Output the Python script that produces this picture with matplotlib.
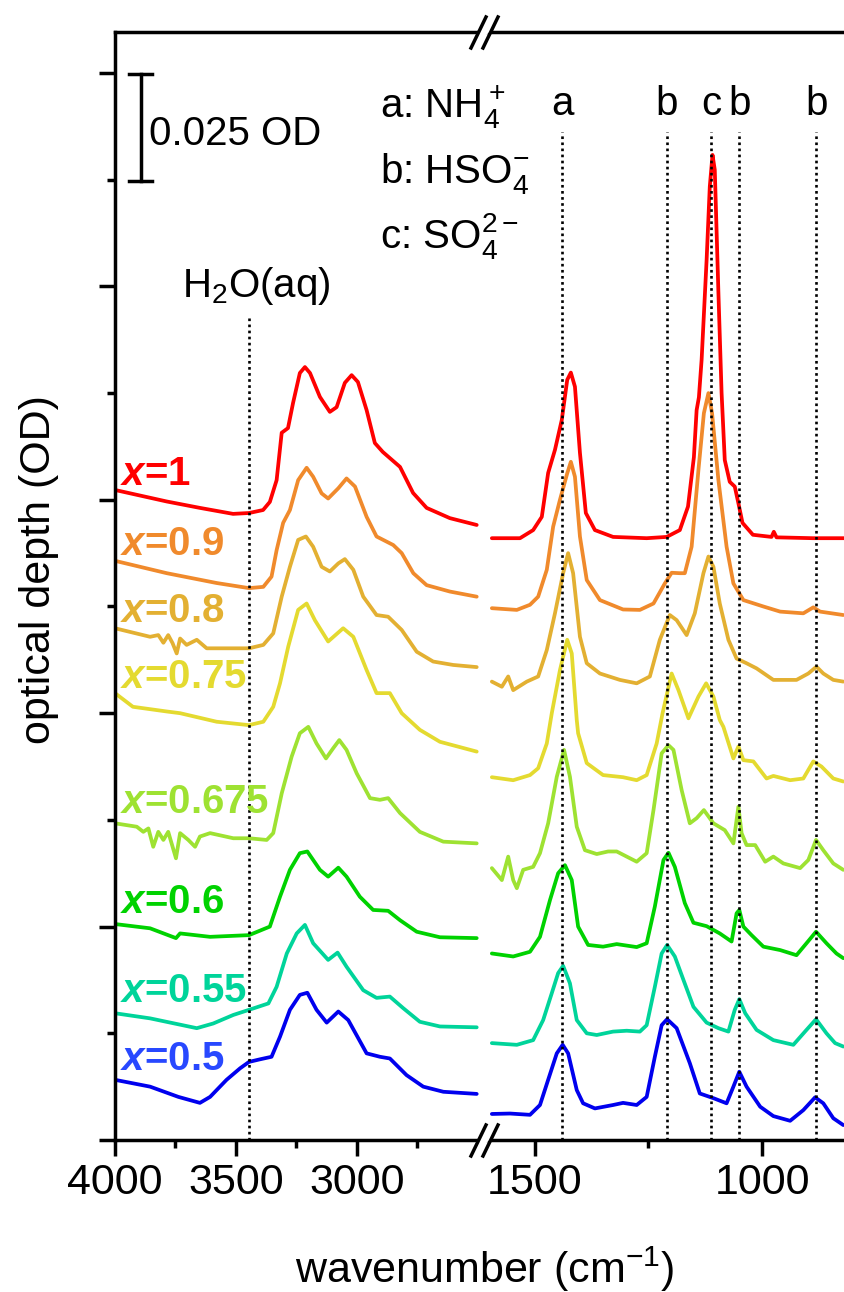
import matplotlib
matplotlib.use('Agg')
import matplotlib.pyplot as plt
from matplotlib.lines import Line2D
from matplotlib.patches import Polygon
from matplotlib.ticker import MultipleLocator, FixedLocator, NullFormatter

plt.rcParams['font.family'] = ['Liberation Sans', 'DejaVu Sans']
plt.rcParams['mathtext.fontset'] = 'custom'
plt.rcParams['mathtext.rm'] = 'Liberation Sans'
plt.rcParams['mathtext.it'] = 'Liberation Sans:italic:bold'
plt.rcParams['mathtext.bf'] = 'Liberation Sans:bold'
plt.rcParams['mathtext.sf'] = 'Liberation Sans'

# ---------------- data (wavenumber cm-1, optical depth) ----------------
labels = ['1', '0.9', '0.8', '0.75', '0.675', '0.6', '0.55', '0.5']
line_colors = ['#FF0000', '#F08A2C', '#E3B032', '#E4DA30', '#9EE232', '#00D200', '#00D49A', '#0000EE']
label_colors = ['#FF0000', '#F08A2C', '#E3B032', '#E4DA30', '#9EE232', '#00D200', '#00D49A', '#2848FF']
label_base_od = [0.1535, 0.1371, 0.1214, 0.1059, 0.0766, 0.0532, 0.0324, 0.0164]

red_l_wn = [4000, 3786, 3649, 3512, 3446, 3388, 3360, 3332, 3311, 3285, 3264, 3236, 3215, 3194, 3153, 3112, 3084, 3050, 3022, 2996, 2960, 2926, 2893, 2822, 2768, 2712, 2616, 2505]
red_l_od = [0.1523, 0.1496, 0.1481, 0.1467, 0.1469, 0.1476, 0.1495, 0.1546, 0.1657, 0.1668, 0.1727, 0.1797, 0.1811, 0.1797, 0.1741, 0.1706, 0.1717, 0.1774, 0.1792, 0.1776, 0.1710, 0.1633, 0.1612, 0.1577, 0.1516, 0.1481, 0.1457, 0.1441]
red_r_wn = [1595, 1533, 1504, 1485, 1471, 1456, 1441, 1429, 1421, 1412, 1401, 1388, 1368, 1328, 1254, 1210, 1181, 1163, 1150, 1144, 1139, 1133, 1122, 1115, 1109, 1104, 1096, 1089, 1082, 1071, 1060, 1052, 1043, 1020, 979, 974, 968, 888, 819]
red_r_od = [0.1410, 0.1410, 0.1429, 0.1460, 0.1563, 0.1617, 0.1687, 0.1781, 0.1798, 0.1765, 0.1610, 0.1469, 0.1429, 0.1413, 0.1410, 0.1413, 0.1429, 0.1484, 0.1600, 0.1710, 0.1740, 0.1828, 0.2062, 0.2234, 0.2308, 0.2273, 0.1985, 0.1750, 0.1593, 0.1542, 0.1531, 0.1492, 0.1446, 0.1418, 0.1413, 0.1425, 0.1412, 0.1410, 0.1410]

or_l_wn = [4000, 3786, 3580, 3446, 3387, 3353, 3332, 3305, 3277, 3243, 3208, 3181, 3146, 3119, 3077, 3043, 3008, 2960, 2919, 2850, 2815, 2767, 2712, 2616, 2505]
or_l_od = [0.1357, 0.1328, 0.1305, 0.1293, 0.1296, 0.1320, 0.1382, 0.1446, 0.1476, 0.1546, 0.1575, 0.1554, 0.1515, 0.1503, 0.1527, 0.1550, 0.1531, 0.1460, 0.1414, 0.1394, 0.1375, 0.1328, 0.1300, 0.1285, 0.1273]
or_r_wn = [1595, 1540, 1511, 1493, 1474, 1460, 1445, 1429, 1421, 1412, 1401, 1386, 1357, 1306, 1269, 1239, 1214, 1199, 1181, 1170, 1155, 1140, 1128, 1118, 1110, 1096, 1078, 1063, 1041, 997, 960, 909, 887, 872, 821]
or_r_od = [0.1246, 0.1242, 0.1254, 0.1273, 0.1336, 0.1437, 0.1500, 0.1562, 0.1589, 0.1554, 0.1414, 0.1312, 0.1265, 0.1243, 0.1242, 0.1257, 0.1304, 0.1329, 0.1328, 0.1328, 0.1390, 0.1570, 0.1703, 0.1750, 0.1703, 0.1546, 0.1390, 0.1304, 0.1265, 0.1250, 0.1238, 0.1234, 0.1248, 0.1238, 0.1230]

au_l_wn = [4000, 3855, 3821, 3800, 3780, 3762, 3745, 3731, 3704, 3662, 3621, 3580, 3446, 3387, 3346, 3311, 3277, 3243, 3211, 3181, 3146, 3112, 3077, 3050, 3015, 2974, 2919, 2871, 2815, 2753, 2685, 2602, 2505]
au_l_od = [0.1199, 0.1179, 0.1183, 0.1165, 0.1183, 0.1164, 0.1140, 0.1175, 0.1160, 0.1172, 0.1152, 0.1152, 0.1152, 0.1160, 0.1187, 0.1273, 0.1343, 0.1406, 0.1414, 0.1390, 0.1343, 0.1332, 0.1351, 0.1361, 0.1336, 0.1273, 0.1230, 0.1226, 0.1195, 0.1144, 0.1121, 0.1113, 0.1108]
au_r_wn = [1595, 1573, 1559, 1548, 1518, 1493, 1474, 1456, 1438, 1427, 1416, 1401, 1386, 1357, 1313, 1276, 1247, 1225, 1203, 1188, 1166, 1148, 1129, 1118, 1107, 1093, 1074, 1056, 1034, 1012, 975, 924, 898, 880, 865, 843, 821]
au_r_od = [0.1074, 0.1062, 0.1086, 0.1054, 0.1074, 0.1086, 0.1148, 0.1234, 0.1328, 0.1375, 0.1328, 0.1179, 0.1117, 0.1093, 0.1078, 0.1070, 0.1086, 0.1172, 0.1230, 0.1218, 0.1183, 0.1234, 0.1328, 0.1367, 0.1343, 0.1257, 0.1172, 0.1128, 0.1117, 0.1105, 0.1078, 0.1078, 0.1093, 0.1109, 0.1093, 0.1078, 0.1074]

ye_l_wn = [4000, 3926, 3786, 3731, 3580, 3446, 3387, 3346, 3318, 3284, 3243, 3208, 3174, 3119, 3057, 3015, 2960, 2919, 2864, 2815, 2740, 2657, 2505]
ye_l_od = [0.1047, 0.1015, 0.1004, 0.1000, 0.0980, 0.0972, 0.0980, 0.1015, 0.1070, 0.1156, 0.1242, 0.1257, 0.1218, 0.1168, 0.1199, 0.1179, 0.1101, 0.1047, 0.1047, 0.1000, 0.0961, 0.0933, 0.0910]
ye_r_wn = [1595, 1548, 1511, 1493, 1474, 1463, 1445, 1429, 1419, 1408, 1405, 1386, 1350, 1306, 1276, 1254, 1232, 1219, 1199, 1184, 1162, 1140, 1123, 1107, 1093, 1085, 1063, 1052, 1041, 1019, 990, 975, 938, 909, 887, 869, 843, 821]
ye_r_od = [0.0850, 0.0843, 0.0855, 0.0871, 0.0929, 0.1000, 0.1101, 0.1172, 0.1140, 0.0984, 0.0953, 0.0883, 0.0855, 0.0850, 0.0843, 0.0855, 0.0929, 0.1000, 0.1093, 0.1054, 0.0988, 0.1039, 0.1070, 0.1039, 0.0984, 0.0968, 0.0894, 0.0922, 0.0890, 0.0887, 0.0847, 0.0853, 0.0843, 0.0847, 0.0887, 0.0875, 0.0847, 0.0840]

yg_l_wn = [4000, 3910, 3883, 3862, 3842, 3821, 3800, 3780, 3748, 3731, 3697, 3669, 3649, 3607, 3511, 3446, 3373, 3346, 3311, 3270, 3236, 3201, 3167, 3128, 3098, 3073, 3043, 3001, 2946, 2905, 2871, 2822, 2740, 2643, 2505]
yg_l_od = [0.0742, 0.0734, 0.0722, 0.0730, 0.0687, 0.0722, 0.0703, 0.0722, 0.0660, 0.0719, 0.0703, 0.0687, 0.0711, 0.0719, 0.0707, 0.0707, 0.0703, 0.0719, 0.0812, 0.0898, 0.0953, 0.0968, 0.0929, 0.0894, 0.0918, 0.0937, 0.0914, 0.0859, 0.0801, 0.0797, 0.0801, 0.0766, 0.0722, 0.0699, 0.0695]
yg_r_wn = [1595, 1573, 1559, 1548, 1540, 1526, 1504, 1489, 1471, 1452, 1436, 1423, 1408, 1390, 1364, 1339, 1320, 1298, 1276, 1254, 1239, 1221, 1206, 1195, 1177, 1159, 1144, 1128, 1107, 1082, 1063, 1052, 1045, 1034, 1015, 993, 975, 953, 916, 898, 881, 865, 843, 821]
yg_r_od = [0.0637, 0.0609, 0.0664, 0.0609, 0.0590, 0.0633, 0.0640, 0.0672, 0.0742, 0.0851, 0.0914, 0.0851, 0.0734, 0.0679, 0.0670, 0.0676, 0.0676, 0.0664, 0.0652, 0.0672, 0.0773, 0.0906, 0.0925, 0.0914, 0.0820, 0.0742, 0.0754, 0.0773, 0.0742, 0.0726, 0.0695, 0.0781, 0.0719, 0.0691, 0.0691, 0.0652, 0.0664, 0.0648, 0.0637, 0.0656, 0.0703, 0.0679, 0.0648, 0.0633]

gr_l_wn = [4000, 3855, 3748, 3731, 3607, 3446, 3360, 3318, 3277, 3236, 3205, 3153, 3119, 3077, 3043, 2988, 2933, 2871, 2822, 2753, 2657, 2505]
gr_l_od = [0.0506, 0.0496, 0.0473, 0.0484, 0.0476, 0.0480, 0.0500, 0.0570, 0.0633, 0.0672, 0.0676, 0.0633, 0.0617, 0.0638, 0.0617, 0.0570, 0.0539, 0.0537, 0.0515, 0.0488, 0.0475, 0.0473]
gr_r_wn = [1595, 1548, 1511, 1489, 1467, 1449, 1434, 1419, 1405, 1383, 1350, 1320, 1276, 1254, 1236, 1217, 1206, 1192, 1170, 1151, 1122, 1093, 1067, 1056, 1050, 1041, 1023, 997, 960, 924, 902, 881, 858, 836, 821]
gr_r_od = [0.0437, 0.0430, 0.0441, 0.0476, 0.0562, 0.0625, 0.0644, 0.0609, 0.0500, 0.0457, 0.0453, 0.0459, 0.0452, 0.0461, 0.0547, 0.0656, 0.0673, 0.0640, 0.0555, 0.0509, 0.0501, 0.0484, 0.0465, 0.0531, 0.0539, 0.0500, 0.0480, 0.0453, 0.0445, 0.0433, 0.0461, 0.0488, 0.0461, 0.0437, 0.0426]

te_l_wn = [4000, 3855, 3662, 3594, 3511, 3446, 3366, 3332, 3290, 3249, 3215, 3181, 3119, 3080, 3043, 2974, 2919, 2864, 2809, 2740, 2657, 2505]
te_l_od = [0.0297, 0.0285, 0.0262, 0.0273, 0.0293, 0.0305, 0.0320, 0.0359, 0.0437, 0.0484, 0.0504, 0.0461, 0.0422, 0.0439, 0.0406, 0.0351, 0.0333, 0.0336, 0.0309, 0.0277, 0.0266, 0.0264]
te_r_wn = [1595, 1540, 1504, 1482, 1463, 1449, 1438, 1423, 1408, 1386, 1364, 1328, 1298, 1269, 1254, 1236, 1221, 1209, 1192, 1173, 1151, 1122, 1096, 1074, 1060, 1050, 1037, 1012, 975, 931, 902, 881, 858, 839, 821]
te_r_od = [0.0227, 0.0223, 0.0234, 0.0281, 0.0344, 0.0391, 0.0408, 0.0367, 0.0281, 0.0250, 0.0246, 0.0254, 0.0256, 0.0254, 0.0269, 0.0359, 0.0437, 0.0457, 0.0430, 0.0375, 0.0312, 0.0275, 0.0262, 0.0254, 0.0305, 0.0330, 0.0297, 0.0258, 0.0234, 0.0223, 0.0258, 0.0283, 0.0250, 0.0227, 0.0219]

bl_l_wn = [4000, 3855, 3738, 3649, 3607, 3539, 3483, 3446, 3401, 3353, 3318, 3277, 3236, 3205, 3167, 3125, 3077, 3036, 2960, 2905, 2864, 2795, 2726, 2643, 2505]
bl_l_od = [0.0141, 0.0125, 0.0101, 0.0087, 0.0101, 0.0141, 0.0168, 0.0183, 0.0189, 0.0195, 0.0242, 0.0305, 0.0340, 0.0345, 0.0305, 0.0275, 0.0301, 0.0281, 0.0203, 0.0195, 0.0191, 0.0152, 0.0125, 0.0113, 0.0108]
bl_r_wn = [1595, 1555, 1511, 1489, 1471, 1452, 1439, 1427, 1408, 1394, 1368, 1328, 1306, 1276, 1254, 1236, 1221, 1209, 1188, 1159, 1137, 1107, 1078, 1063, 1050, 1034, 1004, 975, 938, 909, 883, 865, 843, 821]
bl_r_od = [0.0061, 0.0062, 0.0059, 0.0082, 0.0141, 0.0203, 0.0223, 0.0203, 0.0117, 0.0086, 0.0074, 0.0082, 0.0087, 0.0082, 0.0101, 0.0195, 0.0269, 0.0283, 0.0262, 0.0180, 0.0109, 0.0098, 0.0086, 0.0125, 0.0160, 0.0125, 0.0078, 0.0056, 0.0045, 0.0070, 0.0100, 0.0086, 0.0051, 0.0035]

left_series = [(red_l_wn, red_l_od), (or_l_wn, or_l_od), (au_l_wn, au_l_od), (ye_l_wn, ye_l_od),
               (yg_l_wn, yg_l_od), (gr_l_wn, gr_l_od), (te_l_wn, te_l_od), (bl_l_wn, bl_l_od)]
right_series = [(red_r_wn, red_r_od), (or_r_wn, or_r_od), (au_r_wn, au_r_od), (ye_r_wn, ye_r_od),
                (yg_r_wn, yg_r_od), (gr_r_wn, gr_r_od), (te_r_wn, te_r_od), (bl_r_wn, bl_r_od)]

band_wn = [1440, 1210, 1112, 1050, 880]
band_letters = ['a', 'b', 'c', 'b', 'b']
water_wn = 3446
scale_od = 0.025

# ---------------- figure layout ----------------
W, H = 844, 1292
fig = plt.figure(figsize=(W / 100, H / 100), dpi=100)

def fx(px):
    return px / W

def fy(py):
    return 1 - py / H

x_break = 483
axL = fig.add_axes([fx(115), fy(1140), fx(x_break) - fx(115), fy(32) - fy(1140)])
axR = fig.add_axes([fx(x_break), fy(1140), fx(844) - fx(x_break), fy(32) - fy(1140)])
for ax in (axL, axR):
    ax.patch.set_visible(False)
    ax.set_ylim(0, 0.2596)
axL.set_xlim(4000, 2479)
axR.set_xlim(1614.5, 819.4)

lw_sp = 2.5
for ax in (axL, axR):
    for s in ax.spines.values():
        s.set_linewidth(lw_sp)
axL.spines['right'].set_visible(False)
axR.spines['left'].set_visible(False)
axR.spines['right'].set_visible(False)

axL.xaxis.set_major_locator(FixedLocator([4000, 3500, 3000]))
axL.xaxis.set_minor_locator(FixedLocator([3750, 3250, 2750]))
axR.xaxis.set_major_locator(FixedLocator([1500, 1000]))
axR.xaxis.set_minor_locator(FixedLocator([1250]))
axL.yaxis.set_major_locator(MultipleLocator(0.05))
axL.yaxis.set_minor_locator(MultipleLocator(0.025))
axL.yaxis.set_major_formatter(NullFormatter())
axR.yaxis.set_visible(False)
for ax in (axL, axR):
    ax.tick_params(which='major', direction='out', length=11.5, width=lw_sp, labelsize=31, pad=5)
    ax.tick_params(which='minor', direction='out', length=5.8, width=lw_sp)
    ax.tick_params(axis='x', top=False, which='both')
axL.tick_params(axis='y', right=False, which='both')

# ---------------- spectra ----------------
for (wl, ol), (wr, orr), c in zip(left_series, right_series, line_colors):
    axL.plot(wl, ol, color=c, lw=2.7, solid_joinstyle='round', solid_capstyle='round', zorder=2)
    axR.plot(wr, orr, color=c, lw=2.7, solid_joinstyle='round', solid_capstyle='round', zorder=2)

# series labels
for lab, c, yb in zip(labels, label_colors, label_base_od):
    axL.text(3980, yb, r'$x$=' + lab, color=c, fontsize=29, fontweight='bold',
             ha='left', va='baseline', zorder=4)

# dotted band markers
dot = (0, (1.0, 1.3))
axL.plot([water_wn, water_wn], [0, 0.1928], color='black', lw=1.9, ls=dot, zorder=3)
for w, l in zip(band_wn, band_letters):
    axR.plot([w, w], [0, 0.2362], color='black', lw=1.9, ls=dot, zorder=3)
    axR.text(w, 0.2402, l, ha='center', va='baseline', fontsize=29)

axL.text(3414, 0.1976, r'H$_2$O(aq)', ha='center', va='baseline', fontsize=29)

# scale bar
sb_x, sb_top = 3893, 0.2497
axL.plot([sb_x, sb_x], [sb_top - scale_od, sb_top], color='black', lw=lw_sp)
axL.plot([3942, 3847], [sb_top, sb_top], color='black', lw=lw_sp)
axL.plot([3942, 3847], [sb_top - scale_od, sb_top - scale_od], color='black', lw=lw_sp)
axL.text(3860, 0.2331, '0.025 OD', ha='left', va='baseline', fontsize=29)

# assignments legend
fig.text(fx(380), fy(118.3), r'a: NH$_4^+$', ha='left', va='baseline', fontsize=29)
fig.text(fx(380), fy(183.3), r'b: HSO$_4^{-}$', ha='left', va='baseline', fontsize=29)
fig.text(fx(380), fy(248.3), r'c: SO$_4^{2-}$', ha='left', va='baseline', fontsize=29)

# axis labels
fig.text(fx(39), fy(570), 'optical depth (OD)', rotation=90, ha='center', va='center', fontsize=31)
fig.text(fx(485), fy(1283), r'wavenumber (cm$^{-1}$)', ha='center', va='baseline', fontsize=31)

# axis break marks
for yb in (32, 1140):
    s1 = [(471, yb + 16), (486, yb - 15)]
    s2 = [(483, yb + 16), (498, yb - 15)]
    poly = Polygon([(fx(s1[0][0] + 1), fy(s1[0][1] - 10)), (fx(s1[1][0] - 4), fy(s1[1][1] + 12)),
                    (fx(s2[1][0] - 5), fy(s2[1][1] + 12)), (fx(s2[0][0]), fy(s2[0][1] - 10))],
                   closed=True, transform=fig.transFigure, facecolor='white', edgecolor='none', zorder=5)
    fig.add_artist(poly)
    for s in (s1, s2):
        fig.add_artist(Line2D([fx(s[0][0]), fx(s[1][0])], [fy(s[0][1]), fy(s[1][1])],
                              transform=fig.transFigure, color='black', lw=lw_sp, zorder=6))

fig.savefig('out.png', dpi=100)
